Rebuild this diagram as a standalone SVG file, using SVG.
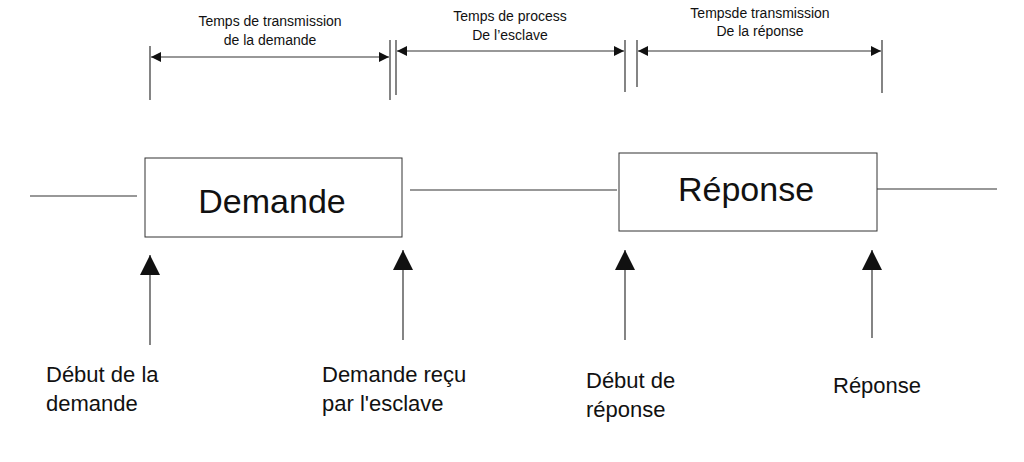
<svg xmlns="http://www.w3.org/2000/svg" width="1024" height="462" viewBox="0 0 1024 462">
<style>
text{font-family:"Liberation Sans",Arial,sans-serif;fill:#111}
.s{font-size:14px;text-anchor:middle}
.b{font-size:22px}
.box{fill:#fff;stroke:#333;stroke-width:1}
line{stroke:#333;stroke-width:1.2}
</style>
<defs>
<marker id="ah" viewBox="0 0 10 10" refX="10" refY="5" markerWidth="10" markerHeight="10" markerUnits="userSpaceOnUse" orient="auto-start-reverse"><path d="M0,0L10,5L0,10z" fill="#111"/></marker>
<marker id="up" viewBox="0 0 10 10" refX="10" refY="5" markerWidth="30" markerHeight="20" markerUnits="userSpaceOnUse" orient="auto"><path d="M0,0L10,5L0,10z" fill="#111"/></marker>
</defs>
<rect width="1024" height="462" fill="#fff"/>
<g id="connectors">
<line x1="30" y1="196" x2="137" y2="196"/>
<line x1="410" y1="190" x2="617" y2="190"/>
<line x1="877" y1="189" x2="997" y2="189"/>
<line x1="150" y1="46" x2="150" y2="100"/>
<line x1="390" y1="40" x2="390" y2="100"/>
<line x1="396" y1="40" x2="396" y2="95"/>
<line x1="625" y1="40" x2="625" y2="92"/>
<line x1="637" y1="40" x2="637" y2="87"/>
<line x1="882" y1="40" x2="882" y2="93"/>
<line x1="151" y1="57" x2="389" y2="57" marker-start="url(#ah)" marker-end="url(#ah)"/>
<line x1="397" y1="51" x2="624" y2="51" marker-start="url(#ah)" marker-end="url(#ah)"/>
<line x1="638" y1="51" x2="881" y2="51" marker-start="url(#ah)" marker-end="url(#ah)"/>
<line x1="150" y1="345" x2="150" y2="255" marker-end="url(#up)"/>
<line x1="403" y1="340" x2="403" y2="250" marker-end="url(#up)"/>
<line x1="625" y1="340" x2="625" y2="250" marker-end="url(#up)"/>
<line x1="872" y1="338" x2="872" y2="250" marker-end="url(#up)"/>
</g>
<g id="labels-top">
<text class="s" x="270" y="26">Temps de transmission</text>
<text class="s" x="270" y="45">de la demande</text>
<text class="s" x="510" y="21">Temps de process</text>
<text class="s" x="510" y="40">De l’esclave</text>
<text class="s" x="760" y="18">Tempsde transmission</text>
<text class="s" x="760" y="36">De la réponse</text>
</g>
<g id="demande"><rect class="box" x="145" y="158" width="257" height="79"/><text x="272" y="213" font-size="34" text-anchor="middle">Demande</text></g>
<g id="reponse"><rect class="box" x="619" y="153" width="258" height="78"/><text x="746" y="201" font-size="34" text-anchor="middle">Réponse</text></g>
<g id="debut-demande"><text class="b" x="46" y="382">Début de la</text><text class="b" x="46" y="411">demande</text></g>
<g id="demande-recu"><text class="b" x="322" y="382">Demande reçu</text><text class="b" x="322" y="411">par l'esclave</text></g>
<g id="debut-reponse"><text class="b" x="586" y="388">Début de</text><text class="b" x="586" y="417">réponse</text></g>
<g id="reponse-label"><text class="b" x="833" y="393">Réponse</text></g>
</svg>
